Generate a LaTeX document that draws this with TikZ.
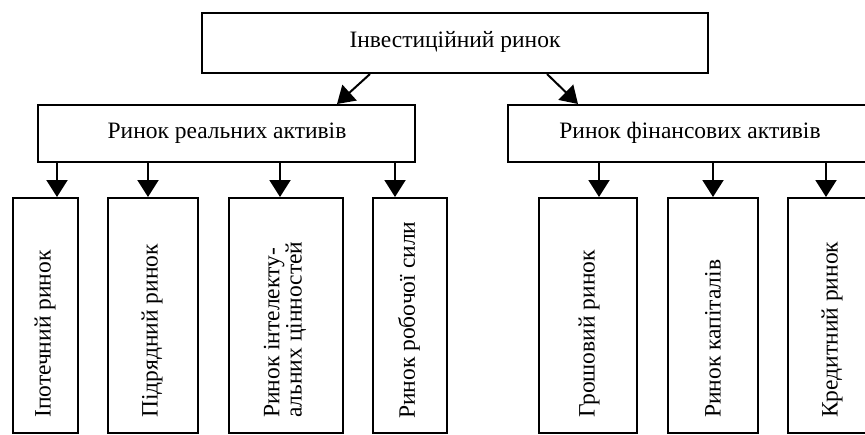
\documentclass[tikz,border=0pt]{standalone}
\usepackage{fontspec}
\setmainfont{Liberation Serif}
\usetikzlibrary{arrows.meta,calc}
\begin{document}
\begin{tikzpicture}[x=1pt,y=-1pt,
  boxstyle/.style={draw, line width=2pt, inner sep=0pt},
  lbl/.style={font=\fontsize{23.5}{23.5}\selectfont, inner sep=0pt},
  vlbl/.style={font=\fontsize{23.5}{21}\selectfont, inner sep=0pt, rotate=90, anchor=west, align=left},
  arr/.style={line width=2pt, -{Triangle[length=17pt,width=21pt]}}]
\useasboundingbox (0,0) rectangle (865,434);
\clip (0,0) rectangle (865,434);
% top
\node[boxstyle, minimum width=506pt, minimum height=60pt] (top) at (455,43) {};
\node[lbl] (toplbl) at (455,42) {Інвестиційний ринок};
% middle
\node[boxstyle, minimum width=377pt, minimum height=57pt] (real) at (226.5,133.5) {};
\node[lbl] (reallbl) at (227,133) {Ринок реальних активів};
\node[boxstyle, minimum width=364pt, minimum height=57pt] (fin) at (690,133.5) {};
\node[lbl] (finlbl) at (690,133) {Ринок фінансових активів};
% bottom boxes
\node[boxstyle, minimum width=65pt, minimum height=235pt] (b1) at (45.5,315.5) {};
\node[boxstyle, minimum width=90pt, minimum height=235pt] (b2) at (153,315.5) {};
\node[boxstyle, minimum width=114pt, minimum height=235pt] (b3) at (286,315.5) {};
\node[boxstyle, minimum width=74pt, minimum height=235pt] (b4) at (410,315.5) {};
\node[boxstyle, minimum width=98pt, minimum height=235pt] (b5) at (588,315.5) {};
\node[boxstyle, minimum width=90pt, minimum height=235pt] (b6) at (713,315.5) {};
\node[boxstyle, minimum width=88pt, minimum height=235pt] (b7) at (832,315.5) {};
\node[vlbl] (t1) at (45,418) {Іпотечний ринок};
\node[vlbl] (t2) at (152,418) {Підрядний ринок};
\node[vlbl] (t3) at (285,418) {Ринок інтелекту-\\альних цінностей};
\node[vlbl] (t4) at (409,419) {Ринок робочої сили};
\node[vlbl] (t5) at (589,418) {Грошовий ринок};
\node[vlbl] (t6) at (713,418) {Ринок капіталів};
\node[vlbl] (t7) at (832,418) {Кредитний ринок};
% arrows
\draw[arr] ([xshift=-85pt]top.south) -- ([xshift=110.5pt]real.north);
\draw[arr] ([xshift=92pt]top.south) -- ([xshift=-112pt]fin.north);
\draw[arr] ([xshift=11.5pt]b1.north |- real.south) -- ([xshift=11.5pt]b1.north);
\draw[arr] ([xshift=-5pt]b2.north |- real.south) -- ([xshift=-5pt]b2.north);
\draw[arr] ([xshift=-6pt]b3.north |- real.south) -- ([xshift=-6pt]b3.north);
\draw[arr] ([xshift=-15pt]b4.north |- real.south) -- ([xshift=-15pt]b4.north);
\draw[arr] ([xshift=11pt]b5.north |- fin.south) -- ([xshift=11pt]b5.north);
\draw[arr] (b6.north |- fin.south) -- (b6.north);
\draw[arr] ([xshift=-6pt]b7.north |- fin.south) -- ([xshift=-6pt]b7.north);
\end{tikzpicture}
\end{document}
